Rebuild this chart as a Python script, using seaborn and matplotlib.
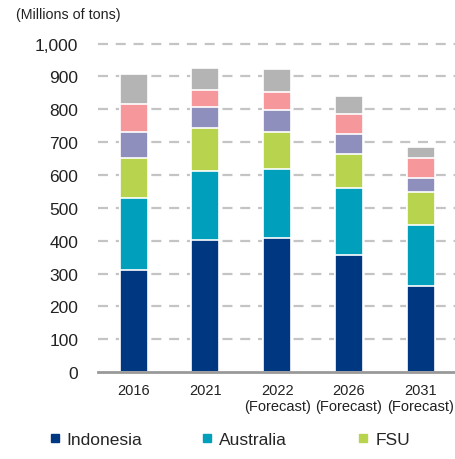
import numpy as np
import pandas as pd
import seaborn as sns
import matplotlib.pyplot as plt
from matplotlib.lines import Line2D

# -------------------------------
# Data (millions of tons)
# -------------------------------
years = ["2016", "2021", "2022\n(Forecast)", "2026\n(Forecast)", "2031\n(Forecast)"]
indonesia = [310, 402, 407, 355, 262]
australia = [221, 211, 210, 205, 186]
fsu = [122, 129, 113, 103, 99]
other_purple = [77, 64, 67, 61, 44]
other_pink = [86, 53, 55, 62, 62]
other_gray = [92, 67, 71, 56, 33]

series_names = ["Indonesia", "Australia", "FSU", "s4", "s5", "s6"]
series_vals = [indonesia, australia, fsu, other_purple, other_pink, other_gray]
colors = ["#003781", "#00A0BD", "#B8D44F", "#8E8FBD", "#F6979C", "#B4B4B4"]
legend_names = ["Indonesia", "Australia", "FSU"]
yticks = [0, 100, 200, 300, 400, 500, 600, 700, 800, 900, 1000]

# -------------------------------
# Build long table with cumulative tops
# -------------------------------
rows = []
for name, vals in zip(series_names, series_vals):
    for yr, v in zip(years, vals):
        rows.append({"year": yr, "series": name, "value": v})
df = pd.DataFrame(rows)
df["top"] = df.groupby("year", sort=False)["value"].cumsum()

sns.set_style("white")
plt.rcParams["font.family"] = ["Liberation Sans", "DejaVu Sans"]

fig = plt.figure(figsize=(4.55, 4.6), dpi=100)
ax = fig.add_axes([0.215, 0.189, 0.785, 0.714])

# draw tallest (cumulative) first so lower segments sit on top
for name, col in reversed(list(zip(series_names, colors))):
    sub = df[df["series"] == name]
    sns.barplot(data=sub, x="year", y="top", order=years, color=col,
                width=0.39, edgecolor="white", linewidth=1.2,
                saturation=1, ax=ax, zorder=3)

ax.set_ylim(0, 1000)
ax.set_xlim(-0.5, 4.48)
ax.set_yticks(yticks)
ax.set_yticklabels([f"{t:,}" for t in yticks], fontsize=12.5, color="#222222")
ax.tick_params(axis="x", labelsize=10.5, colors="#222222", length=0, pad=8)
ax.tick_params(axis="y", length=0, pad=14)
ax.set_xlabel("")
ax.set_ylabel("")

for t in yticks[1:]:
    ax.axhline(t, color="#C4C4C4", linestyle=(0, (4.5, 3.5)), linewidth=1.6,
               zorder=1, clip_on=False)

for s in ["top", "right", "left"]:
    ax.spines[s].set_visible(False)
ax.spines["bottom"].set_color("#999999")
ax.spines["bottom"].set_linewidth(2)
ax.spines["bottom"].set_zorder(4)

fig.text(0.035, 0.967, "(Millions of tons)", fontsize=10.3, color="#222222",
         va="center", ha="left")

# legend entries sit at fixed column positions
legend_x = [0.105, 0.440, 0.783]
for name, c, lx in zip(legend_names, colors[:3], legend_x):
    h = Line2D([0], [0], marker="s", linestyle="", markersize=5.5,
               markerfacecolor=c, markeredgecolor=c)
    fig.legend([h], [name], loc="center left", bbox_to_anchor=(lx, 0.043),
               frameon=False, fontsize=12.5, handletextpad=0.3,
               handlelength=0.8, borderaxespad=0, borderpad=0)

fig.savefig("out.png", dpi=100)
